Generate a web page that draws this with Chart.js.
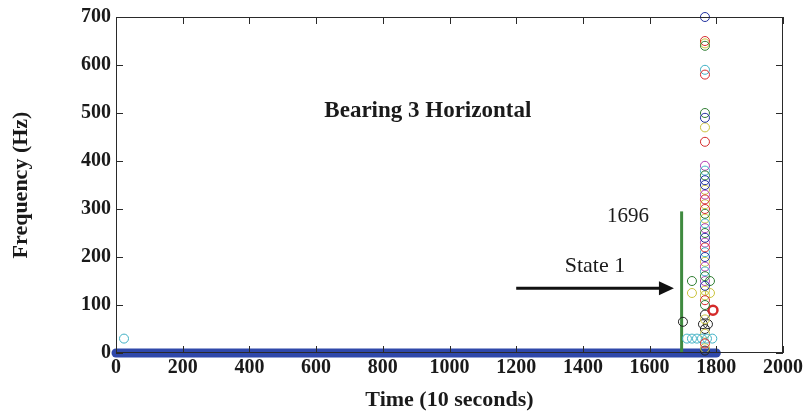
<!DOCTYPE html>
<html>
<head>
<meta charset="utf-8">
<title>Bearing 3 Horizontal</title>
<script src="https://cdn.jsdelivr.net/npm/chart.js@4.4.1/dist/chart.umd.min.js"></script>
<style>
  html, body { margin: 0; padding: 0; background: #fff; }
  #wrap { width: 809px; height: 418px; }
</style>
</head>
<body>
<div id="wrap"><canvas id="chartBearing"></canvas></div>
<script>
/* ── Datos: picos de frecuencia detectados (tiempo en pasos de 10 s, Hz) ── */
const baselineX = [0, 1800];
const baselineY = [0, 0];

const stateLineX = [1696, 1696];
const stateLineY = [0, 295];

const arrowX = [1200, 1661];
const arrowY = [135, 135];

const blueRings = [[1766, 700], [1766, 490], [1766, 360], [1766, 350], [1766, 240], [1766, 200], [1766, 140]];
const greenRings = [[1766, 640], [1766, 500], [1766, 370], [1766, 290], [1766, 250], [1766, 160], [1766, 100],
  [1727, 150], [1781, 150]];
const redRings = [[1766, 650], [1766, 580], [1766, 440], [1766, 320], [1766, 300], [1766, 220], [1766, 110],
  [1766, 20]];
const redBoldRings = [[1790, 89]];
const cyanRings = [[1766, 590], [1766, 380], [1766, 270], [1766, 210], [1766, 170],
  [24, 30], [1712, 30], [1727, 30], [1742, 30], [1757, 30], [1772, 30], [1788, 30]];
const magentaRings = [[1766, 390], [1766, 330], [1766, 260], [1766, 230], [1766, 180], [1766, 150]];
const yellowRings = [[1766, 645], [1766, 470], [1766, 340], [1766, 310], [1766, 280], [1766, 190], [1766, 130],
  [1766, 120], [1766, 70], [1766, 40], [1766, 10], [1727, 125], [1781, 125]];
const blackRings = [[1766, 80], [1760, 60], [1775, 60], [1766, 50], [1766, 5], [1700, 65]];

const xTicks = [0, 200, 400, 600, 800, 1000, 1200, 1400, 1600, 1800, 2000];
const yTicks = [0, 100, 200, 300, 400, 500, 600, 700];

// textos dentro del área de la gráfica, en coordenadas de datos
const notes = [
  { text: 'Bearing 3 Horizontal', x: 935, y: 503, bold: true, size: 23 },
  { text: '1696', x: 1535, y: 285, bold: false, size: 21 },
  { text: 'State 1', x: 1436, y: 181, bold: false, size: 22 },
];

/* ── Estilo ── */
const SERIF = "'Liberation Serif', 'Times New Roman', serif";
const COLORS = {
  base: '#2f48aa',
  stick: '#3f8a3f',
  blue: '#1f2f9e',
  green: '#2e7d32',
  red: '#d42a2a',
  cyan: '#3fb0c4',
  magenta: '#b03cb0',
  yellow: '#c9c23a',
  black: '#222222',
  axis: '#2a2a2a',
};

const toXY = (xs, ys) => xs.map((x, i) => ({ x, y: ys[i] }));
const toPts = pairs => pairs.map(([x, y]) => ({ x, y }));

const rings = (data, color, width = 1) => ({
  data: toPts(data),
  showLine: false,
  pointStyle: 'circle',
  pointRadius: 4.5,
  pointBorderWidth: width,
  pointBorderColor: color,
  pointBackgroundColor: 'rgba(0,0,0,0)',
  clip: false,
});

/* ── Marco con marcas hacia dentro, textos y punta de flecha ── */
const framePlugin = {
  id: 'frame',
  afterDatasetsDraw(chart) {
    const { ctx, chartArea: a, scales } = chart;
    const tl = 7;
    ctx.save();
    ctx.strokeStyle = COLORS.axis;
    ctx.lineWidth = 1;
    ctx.strokeRect(a.left + 0.5, a.top + 0.5, a.right - a.left - 1, a.bottom - a.top - 1);
    ctx.beginPath();
    xTicks.forEach(v => {
      const px = Math.round(scales.x.getPixelForValue(v)) + 0.5;
      ctx.moveTo(px, a.bottom); ctx.lineTo(px, a.bottom - tl);
      ctx.moveTo(px, a.top); ctx.lineTo(px, a.top + tl);
    });
    yTicks.forEach(v => {
      const py = Math.round(scales.y.getPixelForValue(v)) + 0.5;
      ctx.moveTo(a.left, py); ctx.lineTo(a.left + tl, py);
      ctx.moveTo(a.right, py); ctx.lineTo(a.right - tl, py);
    });
    ctx.stroke();

    // punta de la flecha "State 1"
    const tipX = scales.x.getPixelForValue(arrowX[1]);
    const tipY = scales.y.getPixelForValue(arrowY[1]);
    ctx.fillStyle = '#111';
    ctx.beginPath();
    ctx.moveTo(tipX + 4, tipY);
    ctx.lineTo(tipX - 11, tipY - 7);
    ctx.lineTo(tipX - 11, tipY + 7);
    ctx.closePath();
    ctx.fill();

    ctx.fillStyle = '#1a1a1a';
    ctx.textAlign = 'center';
    ctx.textBaseline = 'middle';
    notes.forEach(n => {
      ctx.font = `${n.bold ? 'bold ' : ''}${n.size}px ${SERIF}`;
      ctx.fillText(n.text, scales.x.getPixelForValue(n.x), scales.y.getPixelForValue(n.y));
    });
    ctx.restore();
  },
};

new Chart(document.getElementById('chartBearing'), {
  type: 'scatter',
  data: {
    datasets: [
      rings(blueRings, COLORS.blue),
      rings(greenRings, COLORS.green),
      rings(redRings, COLORS.red),
      rings(redBoldRings, COLORS.red, 2.5),
      rings(cyanRings, COLORS.cyan),
      rings(magentaRings, COLORS.magenta),
      rings(yellowRings, COLORS.yellow),
      rings(blackRings, COLORS.black),
      {
        data: toXY(arrowX, arrowY),
        showLine: true,
        borderColor: '#111',
        borderWidth: 3,
        pointRadius: 0,
      },
      {
        data: toXY(stateLineX, stateLineY),
        showLine: true,
        borderColor: COLORS.stick,
        borderWidth: 3,
        pointRadius: 0,
      },
      {
        data: toXY(baselineX, baselineY),
        showLine: true,
        borderColor: COLORS.base,
        borderWidth: 9,
        borderCapStyle: 'round',
        pointRadius: 0,
        clip: false,
      },
    ],
  },
  options: {
    responsive: true,
    maintainAspectRatio: false,
    animation: false,
    devicePixelRatio: 1,
    layout: { padding: { left: 0, top: 16, right: 26, bottom: 0 } },
    plugins: {
      legend: { display: false },
      tooltip: { enabled: false },
    },
    scales: {
      x: {
        type: 'linear',
        min: 0,
        max: 2000,
        afterBuildTicks: s => { s.ticks = xTicks.map(value => ({ value })); },
        afterFit: s => { s.height = 65; },
        ticks: {
          color: '#1a1a1a',
          padding: 3,
          maxRotation: 0,
          autoSkip: false,
          callback: v => String(v),
          font: { family: SERIF, size: 20, weight: 'bold' },
        },
        grid: { display: false, drawTicks: false },
        border: { display: false },
        title: {
          display: true,
          text: 'Time (10 seconds)',
          color: '#1a1a1a',
          font: { family: SERIF, size: 22, weight: 'bold' },
          padding: { top: 0, bottom: 4 },
        },
      },
      y: {
        type: 'linear',
        min: 0,
        max: 700,
        afterBuildTicks: s => { s.ticks = yTicks.map(value => ({ value })); },
        afterFit: s => { s.width = 116; },
        ticks: {
          color: '#1a1a1a',
          padding: 5,
          autoSkip: false,
          callback: v => String(v),
          font: { family: SERIF, size: 20, weight: 'bold' },
        },
        grid: { display: false, drawTicks: false },
        border: { display: false },
        title: {
          display: true,
          text: 'Frequency (Hz)',
          color: '#1a1a1a',
          font: { family: SERIF, size: 22, weight: 'bold' },
          padding: { top: 8, bottom: 0 },
        },
      },
    },
  },
  plugins: [framePlugin],
});
</script>
</body>
</html>
